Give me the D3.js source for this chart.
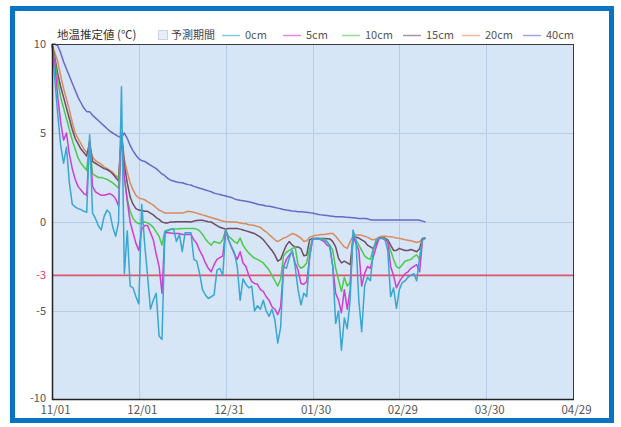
<!DOCTYPE html>
<html><head><meta charset="utf-8">
<script src="https://cdn.jsdelivr.net/npm/d3@7"></script>
<style>
html,body{margin:0;padding:0;background:#fff;}
svg text{font-family:"Noto Sans CJK JP","Noto Sans",sans-serif;}
</style></head>
<body><svg id="c" width="621" height="427"></svg>
<script>
// ---- data ----
const startDate = "2023-11-01";
const endDate = "2024-04-29";
const tickLabels = ["11/01","12/01","12/31","01/30","02/29","03/30","04/29"];
const tickDates = ["2023-11-01","2023-12-01","2023-12-31","2024-01-30","2024-02-29","2024-03-30","2024-04-29"];
const yTicks = [10,5,0,-3,-5,-10];
const yGrid = [5,0,-5];
const thresholdValue = -3;
const seriesNames = ["0cm","5cm","10cm","15cm","20cm","40cm"];
const seriesColors = ["#3aa6d2","#cc3fd0","#4cc94c","#6d4c64","#d98b5c","#6a68c8"];

const depth0 = [10,8.0,6.0,4.3,3.3,4.2,2.2,1.0,0.85,0.75,0.7,0.6,0.55,4.9,0.5,0.2,-0.2,-0.45,0.3,0.67,
0.5,-0.3,-0.8,0.0,7.6,-2.9,-0.5,-3.6,-3.7,-4.2,-4.6,1.0,-1.2,-3.0,-4.9,-4.4,-4.0,-6.4,-6.6,-0.55,
-0.5,-0.4,-0.4,-1.1,-0.7,-1.67,-0.6,-0.6,-0.6,-2.1,-2.2,-2.9,-3.8,-4.1,-4.3,-4.2,-4.1,-2.7,-2.6,-3.0,
-0.45,-1.0,-1.4,-1.7,-2.5,-4.4,-3.2,-3.5,-3.7,-3.6,-5.0,-4.7,-4.9,-4.4,-5.0,-5.3,-4.9,-5.5,-6.8,-5.9,
-2.5,-2.6,-2.0,-1.6,-2.5,-3.8,-4.66,-4.0,-4.2,-2.0,-0.92,-0.95,-0.95,-1.0,-1.0,-1.1,-1.4,-2.5,-5.7,-5.0,
-7.2,-5.4,-6.0,-4.4,-0.45,-1.0,-4.4,-6.16,-3.6,-3.1,-3.3,-1.6,-1.0,-0.92,-0.92,-0.95,-1.6,-4.2,-3.7,-4.85,
-3.8,-3.4,-3.3,-3.1,-3.0,-2.9,-3.3,-2.0,-1.0,-0.9];
const depth5 = [10,8.8,7.0,5.6,4.6,5.0,3.8,3.0,2.4,2.0,1.8,1.6,1.5,4.6,2.0,1.7,1.6,1.5,1.5,1.55,
1.6,1.5,1.3,0.9,5.0,2.5,1.2,0.0,-0.6,-1.2,-1.6,-0.4,-0.2,-0.2,-0.6,-1.0,-1.8,-2.5,-4.0,-0.6,
-0.6,-0.62,-0.65,-0.65,-0.65,-0.7,-0.7,-0.7,-0.7,-1.0,-1.2,-1.6,-1.9,-2.3,-2.6,-2.8,-2.4,-2.1,-2.0,-1.9,
-0.45,-1.0,-1.4,-1.8,-2.1,-1.67,-2.3,-2.5,-3.0,-3.35,-3.45,-3.5,-3.8,-3.9,-4.2,-4.4,-4.76,-4.9,-5.2,-4.76,
-2.5,-2.1,-1.85,-1.67,-2.3,-2.7,-3.45,-3.5,-3.35,-2.0,-1.0,-0.92,-0.92,-1.0,-1.1,-1.3,-1.4,-2.5,-4.0,-4.4,
-5.1,-3.8,-4.9,-3.8,-0.8,-1.2,-1.6,-3.6,-2.9,-2.5,-2.6,-1.95,-1.4,-0.92,-0.9,-1.0,-1.1,-2.5,-3.0,-3.7,
-3.35,-3.1,-2.9,-2.8,-2.6,-2.5,-2.4,-2.8,-1.0,-0.9];
const depth10 = [10,9.0,7.9,7.0,6.4,5.8,5.2,4.6,4.1,3.6,3.3,3.1,2.9,4.6,2.7,2.6,2.5,2.5,2.45,2.4,
2.3,2.2,2.05,1.9,5.0,2.5,1.3,0.6,0.2,0.0,-0.1,-0.05,0.0,-0.05,-0.15,-0.3,-0.55,-0.8,-1.3,-0.5,
-0.45,-0.42,-0.4,-0.4,-0.38,-0.36,-0.36,-0.36,-0.36,-0.36,-0.4,-0.5,-0.7,-0.95,-1.15,-1.3,-1.1,-1.15,-1.2,-1.0,
-0.45,-0.8,-0.95,-1.1,-1.2,-0.9,-1.3,-1.55,-1.75,-1.9,-2.04,-2.1,-2.2,-2.3,-2.5,-2.7,-3.0,-3.3,-3.6,-3.2,
-1.9,-1.7,-1.6,-1.5,-1.4,-2.4,-2.6,-2.5,-2.3,-1.5,-1.0,-0.92,-0.92,-0.95,-0.95,-1.1,-1.3,-1.6,-2.6,-3.26,
-3.9,-3.1,-3.6,-3.4,-0.9,-1.0,-1.3,-1.6,-1.9,-2.04,-2.1,-1.5,-1.1,-0.92,-0.9,-0.95,-1.1,-1.6,-2.1,-2.5,
-2.6,-2.4,-2.2,-2.15,-2.1,-1.95,-1.85,-2.1,-1.0,-0.9];
const depth15 = [10,9.2,8.3,7.6,7.0,6.4,5.8,5.2,4.7,4.4,4.1,3.9,3.7,4.5,3.4,3.3,3.2,3.1,3.0,2.95,
2.85,2.7,2.5,2.3,5.0,3.2,2.2,1.4,1.0,0.75,0.67,0.65,0.6,0.6,0.5,0.4,0.25,0.15,0.0,-0.05,
-0.05,0.0,0.0,0.02,0.02,0.02,0.02,0.02,0.0,0.05,0.08,0.1,0.1,0.05,0.02,0.0,-0.1,-0.2,-0.3,-0.35,
-0.4,-0.36,-0.36,-0.36,-0.36,-0.4,-0.45,-0.5,-0.55,-0.6,-0.65,-0.75,-0.85,-1.0,-1.2,-1.4,-1.6,-1.85,-2.2,-2.1,
-1.67,-1.3,-1.1,-1.3,-1.4,-1.4,-1.5,-1.9,-1.85,-1.0,-0.92,-0.92,-0.92,-0.92,-0.93,-0.94,-0.95,-1.1,-1.4,-2.04,
-2.3,-2.2,-2.3,-2.4,-0.92,-0.85,-0.9,-1.0,-1.1,-1.3,-1.4,-1.5,-1.2,-0.9,-0.9,-0.9,-1.0,-1.3,-1.6,-1.6,
-1.48,-1.55,-1.6,-1.6,-1.55,-1.6,-1.67,-1.5,-0.92,-0.9];
const depth20 = [10,9.5,9.0,8.2,7.5,6.9,6.3,5.6,5.0,4.7,4.4,4.1,3.9,4.2,3.65,3.45,3.35,3.25,3.1,3.0,
2.9,2.8,2.6,2.5,5.0,3.5,2.8,2.2,1.8,1.5,1.35,1.3,1.25,1.15,1.05,0.95,0.8,0.67,0.6,0.5,
0.5,0.5,0.5,0.5,0.5,0.5,0.55,0.6,0.58,0.55,0.5,0.45,0.4,0.35,0.3,0.25,0.2,0.15,0.1,0.05,
0.02,0.02,0.0,0.0,-0.02,-0.05,-0.08,-0.1,-0.15,-0.17,-0.2,-0.25,-0.3,-0.45,-0.55,-0.7,-0.85,-1.0,-1.1,-1.0,
-0.9,-0.85,-0.75,-0.65,-0.7,-0.8,-0.9,-1.1,-1.05,-0.85,-0.8,-0.75,-0.73,-0.7,-0.7,-0.68,-0.65,-0.64,-0.8,-1.0,
-1.2,-1.4,-1.48,-1.1,-0.8,-0.73,-0.73,-0.75,-0.8,-0.85,-0.95,-1.0,-0.95,-0.85,-0.8,-0.8,-0.82,-0.83,-0.85,-0.9,
-0.92,-0.95,-1.0,-1.02,-1.05,-1.1,-1.15,-1.1,-0.95,-0.9];
const depth40 = [10,10,9.9,9.5,9.0,8.6,8.2,7.8,7.4,7.0,6.7,6.4,6.2,6.2,6.0,5.85,5.7,5.55,5.4,5.25,
5.1,5.0,4.9,4.8,4.75,5.0,4.7,4.3,4.0,3.75,3.55,3.45,3.4,3.3,3.2,3.1,3.0,2.85,2.7,2.6,
2.45,2.35,2.3,2.25,2.22,2.2,2.15,2.1,2.08,2.0,1.95,1.9,1.85,1.8,1.75,1.7,1.62,1.58,1.55,1.5,
1.46,1.42,1.38,1.3,1.25,1.22,1.2,1.17,1.14,1.1,1.05,1.0,0.97,0.94,0.9,0.88,0.86,0.82,0.78,0.74,
0.7,0.67,0.65,0.62,0.6,0.58,0.57,0.56,0.55,0.52,0.5,0.46,0.42,0.4,0.38,0.36,0.34,0.32,0.3,0.3,
0.3,0.28,0.26,0.25,0.24,0.22,0.2,0.2,0.2,0.18,0.12,0.11,0.11,0.11,0.11,0.11,0.11,0.11,0.11,0.11,
0.11,0.11,0.11,0.11,0.11,0.11,0.11,0.1,0.05,0.0];
const seriesValues = [depth0, depth5, depth10, depth15, depth20, depth40];

// ---- layout ----
const m = {left:52, right:573, top:44, bottom:400};
const svg = d3.select("#c");
const parse = d3.timeParse("%Y-%m-%d");
const t0 = parse(startDate), t1 = parse(endDate);

const x = d3.scaleTime().domain([t0, t1]).range([m.left, m.right]);
const y = d3.scaleLinear().domain([-10, 10]).range([m.bottom, m.top]);

// outer frame
svg.append("rect").attr("x",12.5).attr("y",8.5).attr("width",599).attr("height",412)
  .attr("fill","#fff").attr("stroke","#0a74c4").attr("stroke-width",5);

// plot background
svg.append("rect").attr("x",m.left).attr("y",m.top).attr("width",m.right-m.left+1).attr("height",m.bottom-m.top)
  .attr("fill","#d6e6f6");

// grid
const tds = tickDates.map(parse);
svg.append("g").selectAll("line").data(tds).join("line")
  .attr("x1",d=>Math.round(x(d))+0.5).attr("x2",d=>Math.round(x(d))+0.5)
  .attr("y1",m.top).attr("y2",m.bottom).attr("stroke","#b7cde6").attr("stroke-width",1);
svg.append("g").selectAll("line").data(yGrid).join("line")
  .attr("x1",m.left).attr("x2",m.right+1)
  .attr("y1",d=>Math.round(y(d))+0.5).attr("y2",d=>Math.round(y(d))+0.5)
  .attr("stroke","#b7cde6").attr("stroke-width",1);

// threshold line
svg.append("line").attr("x1",m.left).attr("x2",m.right+1)
  .attr("y1",y(thresholdValue)).attr("y2",y(thresholdValue))
  .attr("stroke","#d9546c").attr("stroke-width",1.6);

// series
const line = d3.line().x((d,i)=>x(d3.timeDay.offset(t0,i))).y(d=>y(d));
const order = [5,4,3,2,1,0];
order.forEach(k=>{
  svg.append("path").datum(seriesValues[k]).attr("d",line)
    .attr("fill","none").attr("stroke",seriesColors[k]).attr("stroke-width",1.5)
    .attr("stroke-linejoin","round");
});

// plot border
svg.append("rect").attr("x",m.left+0.5).attr("y",m.top+0.5).attr("width",m.right-m.left).attr("height",m.bottom-m.top-1)
  .attr("fill","none").attr("stroke","#3a3a3a").attr("stroke-width",1);
svg.append("line").attr("x1",m.left+0.5).attr("x2",m.left+0.5).attr("y1",m.top).attr("y2",m.bottom)
  .attr("stroke","#222").attr("stroke-width",1.5);
svg.append("line").attr("x1",m.left).attr("x2",m.right+1).attr("y1",m.bottom-0.5).attr("y2",m.bottom-0.5)
  .attr("stroke","#222").attr("stroke-width",1.5);

// axes labels via d3 axis
const xAxis = d3.axisBottom(x).tickValues(tds).tickFormat((d,i)=>tickLabels[i]).tickSize(0).tickPadding(6);
const gx = svg.append("g").attr("transform",`translate(3,${m.bottom})`).call(xAxis);
gx.select(".domain").remove();
gx.selectAll("text").attr("fill","#555").style("font-size","11.5px");

const yAxis = d3.axisLeft(y).tickValues(yTicks).tickFormat(d=>String(d)).tickSize(0).tickPadding(6);
const gy = svg.append("g").attr("transform",`translate(${m.left},0)`).call(yAxis);
gy.select(".domain").remove();
gy.selectAll("text").attr("fill",d=>d===thresholdValue?"#e0405a":"#555").style("font-size","11px")
  .attr("dy",d=>d===-10?"0.1em":"0.32em");

// title
svg.append("text").attr("x",57).attr("y",39).text("地温推定値 (℃)")
  .attr("fill","#333").style("font-size","11.5px");

// legend
const lg = svg.append("g");
lg.append("rect").attr("x",158.5).attr("y",30.5).attr("width",9).attr("height",9)
  .attr("fill","#e6eef8").attr("stroke","#c8d4e4");
lg.append("text").attr("x",171).attr("y",39).text("予測期間").attr("fill","#444").style("font-size","11px");
const legX = [222,283,342,403,462,523];
seriesNames.forEach((n,i)=>{
  lg.append("line").attr("x1",legX[i]).attr("x2",legX[i]+18).attr("y1",35.5).attr("y2",35.5)
    .attr("stroke",seriesColors[i]).attr("stroke-width",1.5).attr("opacity",0.6);
  lg.append("text").attr("x",legX[i]+23).attr("y",39).text(n).attr("fill","#555").style("font-size","11px");
});
</script></body></html>
